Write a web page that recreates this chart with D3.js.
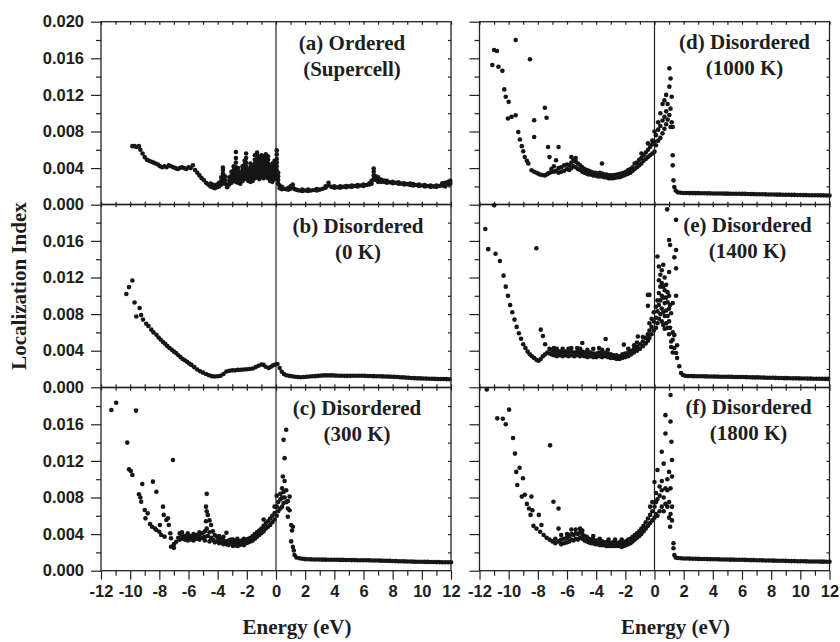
<!DOCTYPE html>
<html>
<head>
<meta charset="utf-8">
<script src="https://cdn.jsdelivr.net/npm/d3@7"></script>
<style>
body { margin: 0; background: #fff; }
.tick text { font-family: "Liberation Sans", Arial, sans-serif; font-weight: bold; font-size: 16.5px; fill: #1e1e1e; }
.tick line { stroke: #222; stroke-width: 1.2; }
.label { font-family: "Liberation Serif", "Times New Roman", serif; font-weight: bold; font-size: 21px; fill: #1e1e1e; }
</style>
</head>
<body>
<div class="container"></div>
<script>
// each row: [energy (eV), localization index values seen at that energy ...], index in units of 1e-3
const ordered = [
  [-9.85, 6.4], [-9.7, 6.4], [-9.55, 6.3], [-9.4, 6.4], [-9.3, 6.0], [-9.15, 5.6], [-9.0, 5.2],
  [-8.85, 4.9], [-8.7, 4.8], [-8.55, 4.7], [-8.4, 4.6], [-8.25, 4.5], [-8.1, 4.4], [-7.95, 4.2],
  [-7.8, 4.1], [-7.65, 4.2], [-7.5, 4.1], [-7.35, 4.3], [-7.2, 4.2], [-7.05, 4.1], [-6.9, 4.0],
  [-6.75, 3.9], [-6.6, 4.0], [-6.45, 4.1], [-6.3, 4.0], [-6.15, 3.9], [-6.0, 4.1], [-5.85, 4.0],
  [-5.7, 4.3], [-5.55, 3.8], [-5.4, 3.5], [-5.25, 3.2], [-5.1, 2.9], [-4.95, 2.7], [-4.8, 2.4],
  [-4.65, 2.2], [-4.5, 2.0, 2.3], [-4.35, 1.9, 2.2], [-4.2, 1.8, 2.1], [-4.05, 1.9, 2.2],
  [-3.9, 2.0, 2.4], [-3.75, 2.2, 2.6, 3.0], [-3.64, 2.6, 3.0, 3.4, 3.8, 4.05], [-3.5, 2.3, 2.7, 3.1],
  [-3.35, 1.9, 2.2], [-3.2, 2.2, 2.6, 3.0], [-3.05, 2.4, 2.8, 3.2, 3.6], [-2.9, 2.6, 3.0, 3.4, 3.8, 4.2],
  [-2.75, 2.5, 2.9, 3.3, 3.7, 4.1, 4.6, 5.1, 5.76], [-2.6, 2.4, 2.8, 3.2, 3.6, 4.0], [-2.45, 2.3, 2.7, 3.1, 3.5],
  [-2.3, 2.6, 3.0, 3.4, 3.8, 4.2], [-2.15, 2.8, 3.2, 3.6, 4.0, 4.4, 4.8], [-2.05, 3.0, 3.4, 3.8, 4.2, 4.6, 5.1, 5.6],
  [-1.9, 2.6, 3.0, 3.4, 3.8], [-1.75, 2.5, 2.9, 3.3, 3.7, 4.1, 4.5], [-1.6, 2.6, 3.0, 3.4, 3.8, 4.2],
  [-1.45, 2.9, 3.3, 3.7, 4.1, 4.5, 4.9, 5.4], [-1.3, 3.0, 3.4, 3.8, 4.2, 4.6, 5.0, 5.4, 5.7],
  [-1.15, 2.8, 3.2, 3.6, 4.0, 4.4, 4.8, 5.2], [-1.0, 3.0, 3.4, 3.8, 4.2, 4.6, 5.0, 5.4],
  [-0.85, 2.9, 3.3, 3.7, 4.1, 4.5, 4.9, 5.3], [-0.7, 3.1, 3.5, 3.9, 4.3, 4.7, 5.1, 5.5],
  [-0.55, 2.9, 3.3, 3.7, 4.1, 4.5, 4.9, 5.3], [-0.4, 2.6, 3.0, 3.4, 3.8, 4.2], [-0.25, 2.5, 2.9, 3.3, 3.7, 4.1, 4.5],
  [-0.1, 2.8, 3.2, 3.6, 4.0, 4.4, 4.8], [0.05, 3.0, 3.4, 3.8, 4.2, 4.6, 5.0, 5.5, 5.95], [0.15, 2.3, 2.7, 3.1, 3.5],
  [0.25, 1.8, 2.1], [0.4, 1.7, 1.95], [0.55, 1.75], [0.7, 1.7], [0.85, 1.65, 1.85], [1.0, 1.75, 2.0],
  [1.15, 1.9, 2.2], [1.3, 1.7], [1.45, 1.6], [1.6, 1.55], [1.8, 1.5, 1.65], [2.0, 1.55], [2.2, 1.5, 1.65],
  [2.4, 1.55], [2.6, 1.6], [2.8, 1.55, 1.7], [3.0, 1.65], [3.2, 1.75], [3.4, 1.85, 2.0], [3.6, 2.1, 2.4],
  [3.8, 1.95], [4.0, 1.85, 2.0], [4.2, 1.9], [4.4, 1.85, 2.0], [4.6, 1.95], [4.8, 1.9, 2.05], [5.0, 2.0],
  [5.2, 1.95, 2.1], [5.4, 2.05], [5.6, 2.0, 2.15], [5.8, 2.1], [6.0, 2.05, 2.2], [6.2, 2.15], [6.4, 2.2, 2.35],
  [6.55, 2.3, 2.6], [6.7, 2.8, 3.2, 3.6, 3.95], [6.85, 2.7, 3.1], [7.0, 2.5, 2.8, 3.0], [7.2, 2.5, 2.75],
  [7.4, 2.5, 2.65], [7.6, 2.4, 2.6], [7.8, 2.45], [8.0, 2.35, 2.5], [8.2, 2.4], [8.4, 2.3, 2.45], [8.6, 2.3],
  [8.8, 2.2, 2.35], [9.0, 2.25], [9.2, 2.15, 2.3], [9.4, 2.1, 2.25], [9.6, 2.15], [9.8, 2.05, 2.2], [10.0, 2.1],
  [10.2, 2.0, 2.15], [10.4, 2.05], [10.6, 1.95, 2.1], [10.8, 2.0], [11.0, 1.95, 2.1], [11.2, 2.05],
  [11.4, 2.1, 2.35], [11.6, 2.0, 2.4], [11.8, 2.2, 2.5], [11.95, 2.3, 2.6]
];

const dis0K = [
  [-10.26, 10.2], [-10.08, 10.95], [-9.85, 11.67], [-9.7, 9.27], [-9.58, 7.74], [-9.35, 8.66], [-9.25, 7.9],
  [-9.12, 7.4], [-8.9, 6.95], [-8.75, 6.7], [-8.55, 6.3], [-8.4, 6.0], [-8.2, 5.75], [-8.05, 5.45], [-7.9, 5.2],
  [-7.75, 4.95], [-7.6, 4.75], [-7.45, 4.5], [-7.3, 4.3], [-7.15, 4.1], [-7.0, 3.9], [-6.85, 3.75],
  [-6.7, 3.5], [-6.55, 3.3], [-6.4, 3.1], [-6.25, 2.95], [-6.1, 2.8], [-5.95, 2.6], [-5.8, 2.45], [-5.6, 2.2],
  [-5.4, 1.95], [-5.2, 1.75], [-5.0, 1.6], [-4.8, 1.45], [-4.6, 1.32], [-4.4, 1.22], [-4.2, 1.18], [-4.0, 1.2],
  [-3.8, 1.27], [-3.6, 1.45], [-3.4, 1.72], [-3.2, 1.8], [-3.0, 1.85], [-2.8, 1.85], [-2.6, 1.9], [-2.4, 1.92],
  [-2.2, 1.95], [-2.0, 1.98], [-1.8, 2.0], [-1.6, 2.05], [-1.4, 2.2], [-1.2, 2.35], [-1.0, 2.5], [-0.85, 2.45],
  [-0.7, 2.25], [-0.5, 2.1], [-0.35, 2.25], [-0.2, 2.4], [-0.05, 2.5], [0.1, 2.55], [0.25, 2.1], [0.4, 1.7],
  [0.55, 1.45], [0.7, 1.32], [0.9, 1.25], [1.1, 1.2], [1.3, 1.15], [1.5, 1.12], [1.7, 1.1], [1.9, 1.12],
  [2.1, 1.15], [2.3, 1.18], [2.5, 1.2], [2.7, 1.22], [2.9, 1.25], [3.1, 1.28], [3.3, 1.3], [3.5, 1.3],
  [3.7, 1.3], [3.9, 1.3], [4.1, 1.28], [4.3, 1.27], [4.5, 1.26], [4.7, 1.25], [4.9, 1.25], [5.1, 1.25],
  [5.3, 1.26], [5.5, 1.27], [5.7, 1.27], [5.9, 1.26], [6.1, 1.25], [6.3, 1.24], [6.5, 1.23], [6.7, 1.22],
  [6.9, 1.2], [7.1, 1.2], [7.3, 1.19], [7.5, 1.18], [7.7, 1.17], [7.9, 1.15], [8.1, 1.14], [8.3, 1.12],
  [8.5, 1.1], [8.7, 1.08], [8.9, 1.06], [9.1, 1.04], [9.3, 1.02], [9.5, 1.0], [9.7, 0.98], [9.9, 0.97],
  [10.1, 0.96], [10.3, 0.95], [10.5, 0.94], [10.7, 0.93], [10.9, 0.92], [11.1, 0.91], [11.3, 0.9],
  [11.5, 0.9], [11.7, 0.89], [11.9, 0.88]
];

const dis300K = [
  [-11.29, 17.56], [-10.96, 18.36], [-10.2, 14.0], [-10.08, 11.08], [-9.96, 10.9], [-9.85, 10.46],
  [-9.6, 17.5], [-9.4, 8.35], [-9.3, 8.0], [-9.24, 7.54], [-9.17, 9.47], [-9.0, 6.63], [-8.95, 5.72],
  [-8.8, 6.27], [-8.64, 5.1], [-8.5, 4.8], [-8.44, 9.73], [-8.3, 4.6], [-8.2, 8.63, 4.45], [-8.0, 4.26],
  [-7.96, 5.0], [-7.87, 3.9], [-7.75, 7.0], [-7.7, 6.1], [-7.64, 3.72], [-7.52, 5.54], [-7.41, 5.72],
  [-7.35, 5.0], [-7.25, 4.09], [-7.2, 3.54, 2.62], [-7.07, 12.1], [-7.0, 2.5, 2.9], [-6.84, 3.17],
  [-6.7, 3.6], [-6.6, 4.08, 3.4], [-6.45, 3.5, 3.9, 4.2], [-6.25, 3.4, 3.8], [-6.05, 3.3, 3.7, 4.1],
  [-5.85, 3.4, 3.8], [-5.65, 3.3, 3.6, 4.0], [-5.45, 3.5, 3.9], [-5.25, 3.4, 3.8, 4.2], [-5.05, 3.6, 4.1],
  [-4.88, 3.3, 3.7, 4.3], [-4.8, 5.4, 7.0], [-4.75, 8.4, 6.5, 4.6], [-4.68, 6.1, 3.8], [-4.56, 5.5, 4.2, 3.2],
  [-4.45, 5.0, 3.6], [-4.33, 4.3, 3.4], [-4.2, 3.9, 3.1], [-4.05, 3.7, 3.2], [-3.9, 3.4, 3.0, 3.8],
  [-3.75, 3.1, 3.5], [-3.6, 2.9, 3.3, 3.7], [-3.4, 3.2, 4.15, 2.9], [-3.25, 2.8, 3.3], [-3.1, 3.0, 3.4],
  [-2.95, 2.7, 3.0, 3.4], [-2.8, 2.8, 3.2], [-2.65, 2.7, 3.1, 3.5], [-2.5, 2.8, 3.2], [-2.35, 2.9, 3.3],
  [-2.2, 2.8, 3.1, 3.5], [-2.05, 3.0, 3.4], [-1.9, 3.1, 3.5], [-1.75, 3.2, 3.6], [-1.6, 3.3, 3.8],
  [-1.45, 3.5, 4.0], [-1.3, 3.7, 4.2], [-1.15, 3.9, 4.4], [-1.0, 4.1, 4.6], [-0.85, 4.3, 4.9, 5.6],
  [-0.7, 4.6, 5.2], [-0.55, 4.8, 5.4], [-0.4, 5.0, 5.7], [-0.25, 5.3, 6.0], [-0.1, 5.6, 6.3, 7.0],
  [0.05, 6.0, 7.0, 8.2], [0.15, 6.5, 7.5], [0.3, 6.8, 7.8, 8.4], [0.42, 7.0, 8.0, 9.0], [0.47, 10.3],
  [0.52, 14.3, 7.4, 8.6], [0.59, 12.3, 9.8, 8.0], [0.7, 15.4, 8.8, 7.5], [0.81, 5.9, 6.8, 7.6], [0.93, 6.6, 8.1],
  [1.04, 5.0, 3.2], [1.1, 4.4], [1.16, 4.8, 2.6], [1.22, 2.2], [1.27, 1.72], [1.4, 1.45], [1.6, 1.36], [1.8, 1.3],
  [2.0, 1.26], [2.2, 1.25], [2.4, 1.24], [2.6, 1.23], [2.8, 1.22], [3.0, 1.22], [3.2, 1.21], [3.4, 1.21],
  [3.6, 1.2], [3.8, 1.2], [4.0, 1.19], [4.2, 1.19], [4.4, 1.18], [4.6, 1.18], [4.8, 1.17], [5.0, 1.17],
  [5.2, 1.16], [5.4, 1.16], [5.6, 1.15], [5.8, 1.15], [6.0, 1.14], [6.2, 1.14], [6.4, 1.13], [6.6, 1.12],
  [6.8, 1.12], [7.0, 1.11], [7.2, 1.1], [7.4, 1.09], [7.6, 1.08], [7.8, 1.07], [8.0, 1.06], [8.2, 1.05],
  [8.4, 1.04], [8.6, 1.03], [8.8, 1.02], [9.0, 1.01], [9.2, 1.0], [9.4, 0.99], [9.6, 0.98], [9.8, 0.97],
  [10.0, 0.97], [10.2, 0.96], [10.4, 0.96], [10.6, 0.95], [10.8, 0.95], [11.0, 0.94], [11.2, 0.94],
  [11.4, 0.93], [11.6, 0.93], [11.8, 0.92], [12.0, 0.92]
];

const dis1000K = [
  [-11.12, 15.26], [-11.0, 16.9], [-10.8, 16.8], [-10.7, 15.07], [-10.43, 14.63], [-10.3, 12.6], [-10.2, 11.8],
  [-10.05, 9.42], [-10.0, 11.24], [-9.8, 9.6], [-9.52, 18.0, 9.78], [-9.34, 7.95], [-9.23, 7.12], [-9.1, 6.4],
  [-9.0, 5.84], [-8.9, 5.2], [-8.75, 4.8], [-8.65, 4.5], [-8.54, 15.9], [-8.43, 3.76], [-8.25, 7.4, 9.23, 3.6],
  [-8.1, 3.5], [-7.98, 3.4], [-7.85, 3.3], [-7.7, 3.25], [-7.52, 3.2, 10.6], [-7.4, 9.5, 3.3], [-7.3, 6.3, 3.4],
  [-7.2, 5.2, 3.5], [-7.07, 3.57, 3.9], [-6.9, 3.6, 4.2], [-6.75, 4.85, 3.7], [-6.58, 6.3, 4.0, 3.5],
  [-6.4, 3.6, 4.1], [-6.2, 3.7, 4.3], [-6.0, 3.9, 4.4], [-5.85, 3.8, 4.3], [-5.7, 4.0, 4.6, 5.2], [-5.55, 4.2, 4.9],
  [-5.4, 4.1, 4.7, 5.1], [-5.25, 3.9, 4.5], [-5.1, 3.8, 4.3], [-4.95, 3.6, 4.1], [-4.8, 3.5, 3.9], [-4.65, 3.4, 3.8],
  [-4.5, 3.3, 3.7], [-4.35, 3.3, 3.6], [-4.2, 3.2, 3.5], [-4.05, 3.2, 3.5], [-3.9, 3.1, 3.4], [-3.75, 3.1, 3.5],
  [-3.6, 3.1, 3.4, 4.5], [-3.45, 3.0, 3.3], [-3.3, 3.0, 3.3], [-3.15, 2.9, 3.2], [-3.0, 2.9, 3.2], [-2.85, 2.9, 3.2],
  [-2.7, 2.95, 3.25], [-2.55, 3.0, 3.3], [-2.4, 3.0, 3.35], [-2.25, 3.1, 3.4], [-2.1, 3.2, 3.5], [-1.95, 3.3, 3.6],
  [-1.8, 3.4, 3.8], [-1.65, 3.5, 3.9], [-1.5, 3.7, 4.1], [-1.36, 3.9, 4.5], [-1.2, 4.1, 4.6], [-1.05, 4.3, 4.9],
  [-0.9, 4.5, 5.1, 5.6], [-0.75, 4.8, 5.4], [-0.6, 5.0, 5.7], [-0.45, 5.2, 6.0, 6.7], [-0.3, 5.4, 6.3],
  [-0.15, 5.6, 6.6, 7.0], [0.0, 5.8, 6.9, 8.0], [0.1, 6.5, 7.6], [0.25, 7.0, 8.2, 9.0], [0.4, 7.3, 8.6, 10.0],
  [0.55, 7.8, 9.2, 11.0], [0.68, 8.3, 9.6, 11.4], [0.8, 8.8, 10.2, 12.0], [0.9, 9.3, 11.0], [1.02, 9.8, 12.9, 14.9],
  [1.1, 13.8, 10.5, 8.5], [1.18, 9.0, 11.8], [1.25, 8.5, 5.4, 4.3], [1.3, 2.66], [1.36, 1.93], [1.45, 1.55],
  [1.6, 1.35], [1.8, 1.3], [2.0, 1.28], [2.2, 1.28], [2.4, 1.27], [2.6, 1.27], [2.8, 1.26], [3.0, 1.26],
  [3.2, 1.25], [3.4, 1.25], [3.6, 1.24], [3.8, 1.24], [4.0, 1.23], [4.2, 1.23], [4.4, 1.22], [4.6, 1.22],
  [4.8, 1.21], [5.0, 1.21], [5.2, 1.2], [5.4, 1.2], [5.6, 1.19], [5.8, 1.19], [6.0, 1.18], [6.2, 1.18],
  [6.4, 1.17], [6.6, 1.16], [6.8, 1.16], [7.0, 1.15], [7.2, 1.14], [7.4, 1.14], [7.6, 1.13], [7.8, 1.12],
  [8.0, 1.12], [8.2, 1.11], [8.4, 1.1], [8.6, 1.1], [8.8, 1.09], [9.0, 1.08], [9.2, 1.08], [9.4, 1.07],
  [9.6, 1.07], [9.8, 1.06], [10.0, 1.06], [10.2, 1.05], [10.4, 1.05], [10.6, 1.04], [10.8, 1.04], [11.0, 1.03],
  [11.2, 1.03], [11.4, 1.02], [11.6, 1.02], [11.8, 1.01], [12.0, 1.01]
];

const dis1400K = [
  [-11.6, 17.3], [-11.4, 15.1], [-11.0, 19.9], [-10.9, 14.6], [-10.6, 13.8], [-10.35, 12.2], [-10.2, 11.0],
  [-10.05, 10.0], [-9.9, 9.0], [-9.75, 8.2], [-9.6, 7.4], [-9.45, 6.6], [-9.3, 5.9], [-9.15, 5.3], [-9.0, 4.7],
  [-8.85, 4.3], [-8.7, 3.9], [-8.55, 3.6], [-8.4, 3.4], [-8.25, 3.2], [-8.1, 15.2, 3.0], [-7.95, 2.9],
  [-7.8, 3.1, 6.3], [-7.65, 3.4, 5.6], [-7.5, 3.6, 4.7], [-7.35, 3.8], [-7.2, 3.7, 4.2], [-7.05, 3.6, 4.1],
  [-6.9, 3.5, 3.9, 4.3], [-6.7, 3.4, 3.8, 4.2], [-6.5, 3.5, 3.9], [-6.3, 3.4, 3.8, 4.2], [-6.1, 3.5, 3.9],
  [-5.9, 3.4, 3.8, 4.2], [-5.7, 3.5, 3.9, 4.3], [-5.5, 3.4, 3.8], [-5.3, 3.5, 3.9, 4.3], [-5.1, 3.4, 3.8, 4.2],
  [-4.95, 3.5, 3.9, 4.84], [-4.8, 3.4, 3.8], [-4.6, 3.3, 3.7, 4.1], [-4.4, 3.4, 3.8], [-4.2, 3.3, 3.7, 4.2],
  [-4.0, 3.3, 3.7], [-3.8, 3.4, 3.8, 4.3], [-3.6, 3.3, 3.7, 4.1], [-3.4, 3.4, 3.8], [-3.35, 5.28],
  [-3.2, 3.3, 3.7, 4.1], [-3.0, 3.2, 3.6], [-2.8, 3.2, 3.5], [-2.6, 3.1, 3.5], [-2.4, 3.1, 3.4], [-2.2, 3.2, 3.6],
  [-2.1, 4.66], [-2.0, 3.3, 3.7], [-1.8, 3.4, 3.8, 4.2], [-1.6, 3.6, 4.0], [-1.4, 3.8, 4.2, 4.6],
  [-1.2, 4.0, 4.4, 4.9], [-1.14, 5.56], [-1.0, 4.2, 4.7], [-0.8, 4.5, 5.0, 5.5], [-0.6, 4.8, 5.4],
  [-0.45, 5.1, 5.8, 8.9, 10.1], [-0.35, 10.1, 5.4, 6.2, 7.0], [-0.2, 5.8, 6.6, 7.5], [-0.05, 6.2, 7.2, 8.2],
  [0.1, 6.5, 7.6, 8.8], [0.2, 14.3, 7.0, 8.3, 9.5], [0.3, 13.2, 11.7, 7.5, 9.0, 10.3], [0.4, 8.0, 9.5, 11.0, 12.3],
  [0.5, 7.2, 8.6, 10.0, 11.4, 12.8], [0.6, 6.8, 8.2, 9.8, 11.0, 13.4], [0.7, 6.4, 7.8, 9.2, 10.6, 12.0],
  [0.8, 7.0, 8.4, 9.8, 11.2], [0.87, 19.45], [0.9, 6.5, 7.8, 9.3, 10.4], [1.0, 16.1, 12.6, 5.8, 7.2, 8.6, 10.0],
  [1.07, 15.56, 6.5, 9.0], [1.14, 8.1, 5.0, 4.4], [1.25, 9.2, 6.0, 5.2, 3.8], [1.36, 5.7, 4.3, 14.2],
  [1.48, 18.3, 15.0, 13.0, 10.0, 3.75], [1.55, 3.2, 4.6], [1.7, 2.3], [1.82, 1.57], [1.95, 1.35],
  [2.1, 1.26], [2.3, 1.24], [2.5, 1.23], [2.7, 1.22], [2.9, 1.21], [3.1, 1.2], [3.3, 1.2], [3.5, 1.19],
  [3.7, 1.18], [3.9, 1.18], [4.1, 1.17], [4.3, 1.17], [4.5, 1.16], [4.7, 1.16], [4.9, 1.15], [5.1, 1.15],
  [5.3, 1.14], [5.5, 1.13], [5.7, 1.13], [5.9, 1.12], [6.1, 1.12], [6.3, 1.11], [6.5, 1.1], [6.7, 1.09],
  [6.9, 1.08], [7.1, 1.08], [7.3, 1.07], [7.5, 1.06], [7.7, 1.05], [7.9, 1.04], [8.1, 1.04], [8.3, 1.03],
  [8.5, 1.02], [8.7, 1.01], [8.9, 1.0], [9.1, 1.0], [9.3, 0.99], [9.5, 0.98], [9.7, 0.98], [9.9, 0.97],
  [10.1, 0.96], [10.3, 0.96], [10.5, 0.95], [10.7, 0.95], [10.9, 0.94], [11.1, 0.94], [11.3, 0.93],
  [11.5, 0.93], [11.7, 0.92], [11.9, 0.92]
];

const dis1800K = [
  [-11.5, 19.8], [-10.78, 16.65], [-10.4, 16.6], [-10.2, 16.0], [-9.97, 17.6], [-9.7, 14.5], [-9.57, 12.8],
  [-9.48, 10.8], [-9.41, 9.37], [-9.25, 11.25], [-9.1, 8.1], [-9.02, 10.1], [-8.89, 8.3], [-8.75, 7.3],
  [-8.6, 6.8], [-8.5, 6.1], [-8.44, 8.1], [-8.37, 6.6], [-8.3, 4.9], [-8.1, 4.6], [-7.93, 6.1], [-7.84, 4.26],
  [-7.75, 5.0], [-7.6, 3.9], [-7.4, 3.6], [-7.2, 3.4], [-7.16, 13.7], [-7.0, 3.2], [-6.93, 7.54], [-6.8, 3.0, 3.5],
  [-6.58, 6.8, 4.6, 3.2], [-6.4, 2.9, 3.4, 3.9], [-6.2, 3.0, 3.5], [-6.0, 3.1, 3.6, 4.0], [-5.85, 3.2, 3.8],
  [-5.7, 3.4, 4.0, 4.5], [-5.55, 3.3, 3.9], [-5.4, 3.5, 4.1, 4.5], [-5.25, 3.4, 4.0], [-5.1, 3.6, 4.2, 4.6],
  [-4.95, 3.5, 4.0, 4.4], [-4.8, 3.3, 3.8], [-4.65, 3.2, 3.7], [-4.5, 3.1, 3.5], [-4.35, 3.0, 3.4],
  [-4.2, 3.0, 3.4, 3.8], [-4.05, 2.9, 3.3], [-3.9, 2.9, 3.3], [-3.75, 2.8, 3.2, 3.5], [-3.6, 2.8, 3.2],
  [-3.45, 2.8, 3.1], [-3.3, 2.7, 3.1], [-3.15, 2.7, 3.1, 3.4], [-3.0, 2.7, 3.0], [-2.85, 2.7, 3.1],
  [-2.7, 2.7, 3.1, 3.4], [-2.55, 2.7, 3.0], [-2.4, 2.7, 3.1], [-2.25, 2.6, 3.0, 3.4], [-2.1, 2.7, 3.1],
  [-1.95, 2.8, 3.2], [-1.8, 2.9, 3.4], [-1.65, 3.0, 3.5], [-1.5, 3.2, 3.7], [-1.35, 3.4, 3.9], [-1.2, 3.6, 4.1],
  [-1.05, 3.8, 4.3], [-0.9, 4.0, 4.6], [-0.75, 4.3, 4.9], [-0.6, 4.6, 5.3], [-0.45, 4.9, 5.7],
  [-0.3, 5.2, 6.1, 7.0], [-0.15, 5.5, 6.5, 7.5], [0.0, 5.8, 7.0, 9.7], [0.1, 6.2, 7.5, 8.5], [0.2, 11.0, 6.0, 7.8],
  [0.35, 6.5, 8.2, 9.2], [0.5, 13.0, 7.0, 8.8, 9.8], [0.63, 11.7, 6.5, 8.0], [0.75, 15.0, 17.0, 9.0, 7.3],
  [0.88, 7.0, 8.8, 10.0], [1.0, 10.8, 7.5, 5.8], [1.07, 4.8], [1.1, 16.3, 19.2, 9.0, 6.2], [1.16, 14.1],
  [1.2, 12.1, 10.3, 7.0, 5.5], [1.3, 3.0, 2.45], [1.36, 1.72], [1.45, 1.45], [1.6, 1.38], [1.8, 1.36],
  [2.0, 1.34], [2.2, 1.33], [2.4, 1.32], [2.6, 1.31], [2.8, 1.3], [3.0, 1.29], [3.2, 1.28], [3.4, 1.28],
  [3.6, 1.27], [3.8, 1.26], [4.0, 1.25], [4.2, 1.25], [4.4, 1.24], [4.6, 1.23], [4.8, 1.23], [5.0, 1.22],
  [5.2, 1.21], [5.4, 1.21], [5.6, 1.2], [5.8, 1.19], [6.0, 1.19], [6.2, 1.18], [6.4, 1.17], [6.6, 1.16],
  [6.8, 1.16], [7.0, 1.15], [7.2, 1.14], [7.4, 1.13], [7.6, 1.12], [7.8, 1.12], [8.0, 1.11], [8.2, 1.1],
  [8.4, 1.09], [8.6, 1.08], [8.8, 1.08], [9.0, 1.07], [9.2, 1.06], [9.4, 1.05], [9.6, 1.05], [9.8, 1.04],
  [10.0, 1.03], [10.2, 1.03], [10.4, 1.02], [10.6, 1.01], [10.8, 1.01], [11.0, 1.0], [11.2, 1.0],
  [11.4, 0.99], [11.6, 0.99], [11.8, 0.98], [12.0, 0.98]
];

const panelTitles = [
  ["(a) Ordered", "(Supercell)"], ["(b) Disordered", "(0 K)"], ["(c) Disordered", "(300 K)"],
  ["(d) Disordered", "(1000 K)"], ["(e) Disordered", "(1400 K)"], ["(f) Disordered", "(1800 K)"]
];
const panelData = [ordered, dis0K, dis300K, dis1000K, dis1400K, dis1800K];

const xMajor = [-12, -10, -8, -6, -4, -2, 0, 2, 4, 6, 8, 10, 12];
const xMinor = [-11, -9, -7, -5, -3, -1, 1, 3, 5, 7, 9, 11];
const yMajor = [0, 4, 8, 12, 16, 20];
const yMinor = [2, 6, 10, 14, 18];

// layout
const colLeft = [101, 479.5];
const rowTop = [21.7, 204.3, 387.7];
const plotW = 350, plotH = 183;
const labelPos = [[251, 28], [257, 29], [256, 27.5], [265, 27], [268, 27.5], [269, 26]];

const svg = d3.select(".container")
  .append("svg")
  .attr("width", 840)
  .attr("height", 642);

const x = d3.scaleLinear().domain([-12, 12]).range([0, plotW]);
const y = d3.scaleLinear().domain([0, 20]).range([plotH, 0]);

const flat = rows => rows.flatMap(r => r.slice(1).map(v => [r[0], v]));

panelData.forEach((rows, i) => {
  const col = Math.floor(i / 3), row = i % 3;
  const g = svg.append("g")
    .attr("transform", "translate(" + colLeft[col] + "," + rowTop[row] + ")");

  // left axis, major ticks with labels only in the left column
  g.append("g")
    .call(d3.axisLeft(y)
      .tickValues(row == 0 ? yMajor : yMajor.slice(0, 5))
      .tickSize(10).tickPadding(7)
      .tickFormat(col == 0 ? d => (d / 1000).toFixed(3) : ""))
    .call(a => a.select(".domain").remove());
  g.append("g")
    .call(d3.axisLeft(y).tickValues(yMinor).tickSize(5).tickFormat(""))
    .call(a => a.select(".domain").remove());

  // right axis, small inward ticks
  g.append("g")
    .attr("transform", "translate(" + plotW + ",0)")
    .call(d3.axisLeft(y).tickValues(yMajor.slice(1, 5).concat(yMinor)).tickSize(3).tickFormat(""))
    .call(a => a.select(".domain").remove());

  // top edge, inward ticks
  g.append("g")
    .call(d3.axisBottom(x).tickValues(xMajor.concat(xMinor)).tickSize(3).tickFormat(""))
    .call(a => a.select(".domain").remove());

  if (row == 2) {
    g.append("g")
      .attr("transform", "translate(0," + plotH + ")")
      .call(d3.axisBottom(x).tickValues(xMajor).tickSize(9).tickPadding(6).tickFormat(d => String(d)))
      .call(a => a.select(".domain").remove());
    g.append("g")
      .attr("transform", "translate(0," + plotH + ")")
      .call(d3.axisBottom(x).tickValues(xMinor).tickSize(5).tickFormat(""))
      .call(a => a.select(".domain").remove());
  } else {
    g.append("g")
      .attr("transform", "translate(0," + plotH + ")")
      .call(d3.axisTop(x).tickValues(xMajor.concat(xMinor)).tickSize(3).tickFormat(""))
      .call(a => a.select(".domain").remove());
  }

  // frame
  g.append("rect")
    .attr("width", plotW)
    .attr("height", plotH)
    .attr("fill", "none")
    .attr("stroke", "#222")
    .attr("stroke-width", 1.3);

  // zero energy line
  g.append("line")
    .attr("x1", x(0)).attr("x2", x(0))
    .attr("y1", 0).attr("y2", plotH)
    .attr("stroke", "#222")
    .attr("stroke-width", 1.2);

  g.append("g")
    .selectAll("circle")
    .data(flat(rows))
    .enter()
    .append("circle")
    .attr("cx", d => x(d[0]))
    .attr("cy", d => y(d[1]))
    .attr("r", 2.3)
    .style("fill", "#161616");

  const t = g.append("text")
    .attr("class", "label")
    .attr("text-anchor", "middle")
    .attr("x", labelPos[i][0])
    .attr("y", labelPos[i][1]);
  t.append("tspan").text(panelTitles[i][0]);
  t.append("tspan").attr("x", labelPos[i][0]).attr("dy", 26).text(panelTitles[i][1]);
});

svg.append("text")
  .attr("class", "label")
  .attr("text-anchor", "middle")
  .attr("transform", "translate(26,286) rotate(-90)")
  .text("Localization Index");

[0, 1].forEach(col => {
  svg.append("text")
    .attr("class", "label")
    .attr("text-anchor", "middle")
    .attr("x", colLeft[col] + plotW / 2 + 21)
    .attr("y", 634)
    .text("Energy (eV)");
});
</script>
</body>
</html>
